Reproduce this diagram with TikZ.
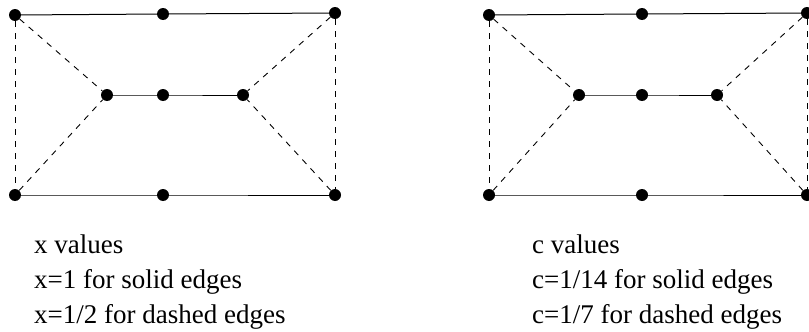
\documentclass[tikz,border=0pt]{standalone}
\usepackage{fontspec}
\setmainfont{Liberation Serif}
\begin{document}
\begin{tikzpicture}[x=1pt,y=-1pt,
  dot/.style={circle,fill=black,inner sep=0pt,minimum size=12pt},
  solidedge/.style={line width=1pt},
  dashedge/.style={line width=0.9pt,dash pattern=on 6pt off 6pt},
  lbl/.style={anchor=base west,inner sep=0pt,font=\fontsize{27}{32}\selectfont}]
\useasboundingbox (0,0) rectangle (809,332);
\clip (0,0) rectangle (809,332);
% left graph
\node[dot] (a1) at (15,15) {};
\node[dot] (a2) at (163,14) {};
\node[dot] (a3) at (335,13) {};
\node[dot] (b1) at (107,95) {};
\node[dot] (b2) at (163,95) {};
\node[dot] (b3) at (243,95) {};
\node[dot] (c1) at (15,195) {};
\node[dot] (c2) at (163,195) {};
\node[dot] (c3) at (335,195) {};
\draw[solidedge] (a1.center) -- (a2.center) -- (a3.center);
\draw[solidedge] (b1.center) -- (b2.center) -- (b3.center);
\draw[solidedge] (c1.center) -- (c2.center) -- (c3.center);
\draw[dashedge] (a1) -- (c1);
\draw[dashedge] (a3) -- (c3);
\draw[dashedge] (a1) -- (b1);
\draw[dashedge] (c1) -- (b1);
\draw[dashedge] (a3) -- (b3);
\draw[dashedge] (c3) -- (b3);
% right graph
\node[dot] (d1) at (489,15) {};
\node[dot] (d2) at (642,14) {};
\node[dot] (d3) at (807,13) {};
\node[dot] (e1) at (579,95) {};
\node[dot] (e2) at (642,95) {};
\node[dot] (e3) at (717,95) {};
\node[dot] (f1) at (489,195) {};
\node[dot] (f2) at (642,195) {};
\node[dot] (f3) at (807,195) {};
\draw[solidedge] (d1.center) -- (d2.center) -- (d3.center);
\draw[solidedge] (e1.center) -- (e2.center) -- (e3.center);
\draw[solidedge] (f1.center) -- (f2.center) -- (f3.center);
\draw[dashedge] (d1) -- (f1);
\draw[dashedge] (d3) -- (f3);
\draw[dashedge] (d1) -- (e1);
\draw[dashedge] (f1) -- (e1);
\draw[dashedge] (d3) -- (e3);
\draw[dashedge] (f3) -- (e3);
% labels
\node[lbl] (t1) at (34,253) {x values};
\node[lbl] (t2) at (34,288) {x=1 for solid edges};
\node[lbl] (t3) at (34,323) {x=1/2 for dashed edges};
\node[lbl] (u1) at (532,253) {c values};
\node[lbl] (u2) at (532,288) {c=1/14 for solid edges};
\node[lbl] (u3) at (532,323) {c=1/7 for dashed edges};
\end{tikzpicture}
\end{document}
